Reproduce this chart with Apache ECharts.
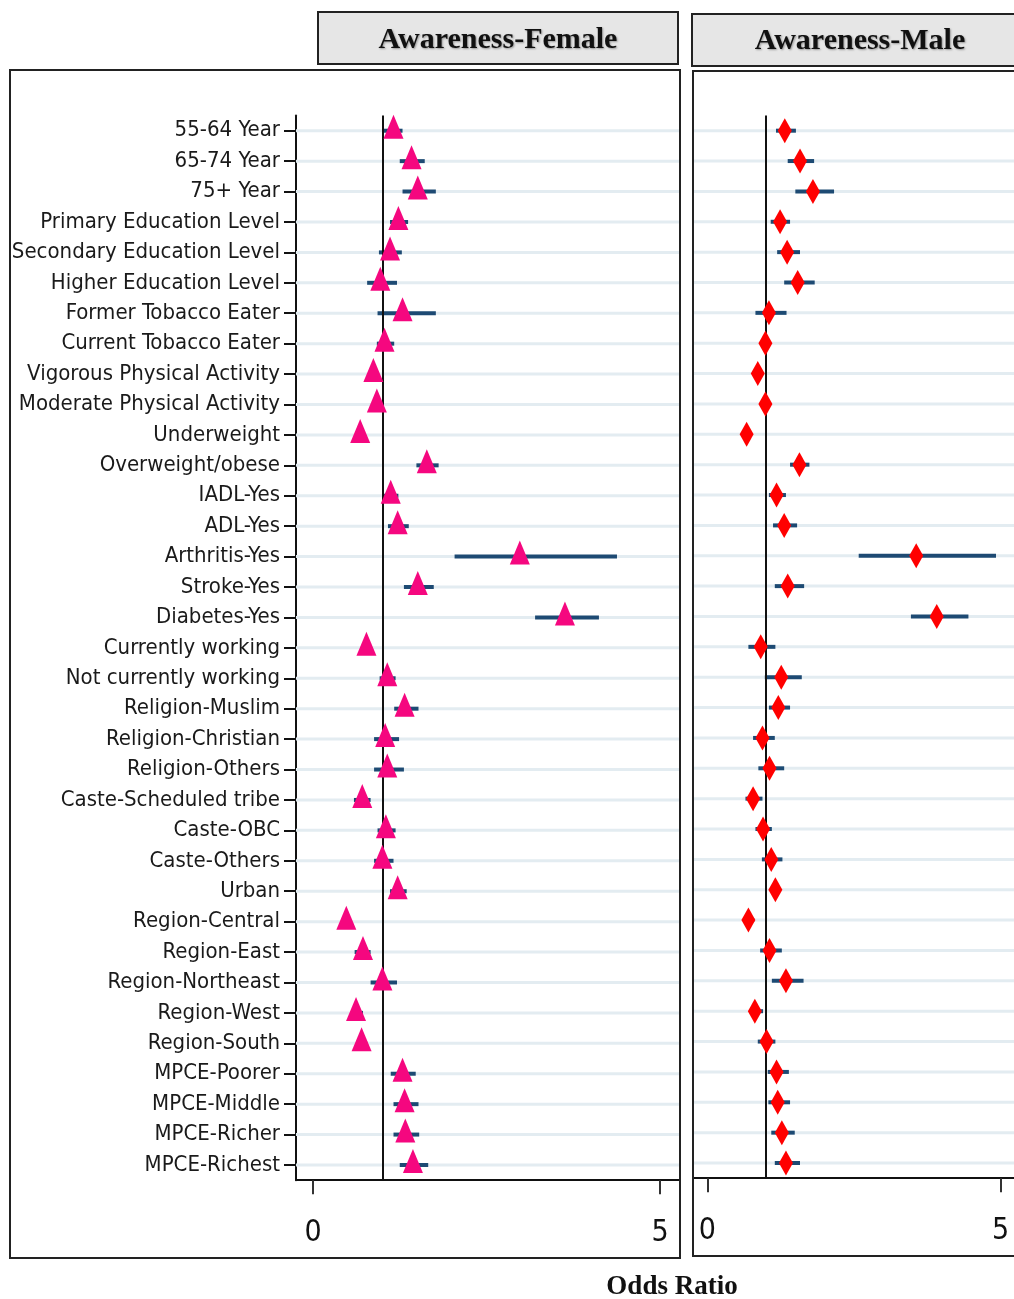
<!DOCTYPE html>
<html>
<head>
<meta charset="utf-8">
<script src="https://cdn.jsdelivr.net/npm/echarts@6/dist/echarts.min.js"></script>
<style>
  html, body { margin: 0; padding: 0; background: #fff; }
  #chart { width: 1014px; height: 1299px; }
</style>
</head>
<body>
<div id="chart"></div>
<script>
// row labels, top to bottom
const labels = [
  '55-64 Year', '65-74 Year', '75+ Year', 'Primary Education Level', 'Secondary Education Level',
  'Higher Education Level', 'Former Tobacco Eater', 'Current Tobacco Eater', 'Vigorous Physical Activity',
  'Moderate Physical Activity', 'Underweight', 'Overweight/obese', 'IADL-Yes', 'ADL-Yes', 'Arthritis-Yes',
  'Stroke-Yes', 'Diabetes-Yes', 'Currently working', 'Not currently working', 'Religion-Muslim',
  'Religion-Christian', 'Religion-Others', 'Caste-Scheduled tribe', 'Caste-OBC', 'Caste-Others', 'Urban',
  'Region-Central', 'Region-East', 'Region-Northeast', 'Region-West', 'Region-South',
  'MPCE-Poorer', 'MPCE-Middle', 'MPCE-Richer', 'MPCE-Richest'
];

// female odds ratios and 95% CI
const femaleOR = [1.16, 1.42, 1.51, 1.23, 1.11, 0.97, 1.29, 1.03, 0.87, 0.92, 0.68, 1.64, 1.12, 1.22, 2.98,
  1.51, 3.63, 0.77, 1.07, 1.32, 1.04, 1.07, 0.71, 1.05, 1.00, 1.22, 0.48, 0.72, 1.00, 0.62, 0.70,
  1.29, 1.32, 1.33, 1.44];
const femaleLo = [1.02, 1.25, 1.29, 1.11, 0.95, 0.78, 0.93, 0.92, 0.82, 0.87, 0.63, 1.49, 1.00, 1.08, 2.04,
  1.31, 3.20, 0.72, 0.96, 1.17, 0.88, 0.88, 0.59, 0.93, 0.88, 1.11, 0.44, 0.60, 0.83, 0.55, 0.65,
  1.12, 1.16, 1.16, 1.25];
const femaleHi = [1.29, 1.61, 1.77, 1.37, 1.28, 1.21, 1.77, 1.17, 0.93, 0.97, 0.73, 1.81, 1.23, 1.38, 4.38,
  1.74, 4.12, 0.83, 1.19, 1.52, 1.24, 1.31, 0.83, 1.19, 1.16, 1.35, 0.53, 0.83, 1.21, 0.72, 0.78,
  1.48, 1.52, 1.53, 1.66];

// male odds ratios and 95% CI
const maleOR = [1.32, 1.58, 1.80, 1.24, 1.36, 1.54, 1.05, 0.99, 0.86, 0.99, 0.67, 1.57, 1.18, 1.31, 3.56,
  1.37, 3.91, 0.91, 1.26, 1.21, 0.94, 1.06, 0.78, 0.95, 1.09, 1.16, 0.70, 1.06, 1.34, 0.81, 1.01,
  1.18, 1.20, 1.27, 1.34];
const maleLo = [1.17, 1.37, 1.50, 1.08, 1.19, 1.31, 0.82, 0.95, 0.82, 0.95, 0.63, 1.41, 1.05, 1.12, 2.58,
  1.15, 3.47, 0.70, 0.98, 1.05, 0.78, 0.87, 0.65, 0.82, 0.93, 1.10, 0.62, 0.90, 1.10, 0.72, 0.86,
  1.03, 1.04, 1.09, 1.15];
const maleHi = [1.51, 1.82, 2.16, 1.41, 1.58, 1.83, 1.35, 1.06, 0.90, 1.03, 0.71, 1.74, 1.34, 1.53, 4.92,
  1.65, 4.45, 1.16, 1.61, 1.41, 1.15, 1.31, 0.94, 1.10, 1.28, 1.22, 0.80, 1.27, 1.64, 0.95, 1.16,
  1.39, 1.41, 1.49, 1.58];

const xTicks = [0, 5];

const labelFont = "'Liberation Sans Narrow', 'DejaVu Sans Condensed', 'Roboto Condensed', 'Liberation Sans', sans-serif";
const serifFont = "'Liberation Serif', 'DejaVu Serif', serif";

const chart = echarts.init(document.getElementById('chart'));

function gridLines(xi, yi, xmin) {
  return {
    type: 'custom', xAxisIndex: xi, yAxisIndex: yi, silent: true, z: 1,
    data: labels.map(l => [xmin, l]),
    encode: { x: 0, y: 1 },
    renderItem(params, api) {
      const cs = params.coordSys;
      const y = api.coord([0, api.value(1)])[1];
      return { type: 'line', shape: { x1: cs.x, y1: y, x2: cs.x + cs.width, y2: y },
        style: { stroke: '#e3ecf1', lineWidth: 3 } };
    }
  };
}

function ciLines(xi, yi, lo, hi) {
  return {
    type: 'custom', xAxisIndex: xi, yAxisIndex: yi, silent: true, z: 3,
    data: labels.map((l, i) => [lo[i], hi[i], l]),
    encode: { x: [0, 1], y: 2 },
    renderItem(params, api) {
      const p1 = api.coord([api.value(0), api.value(2)]);
      const p2 = api.coord([api.value(1), api.value(2)]);
      return { type: 'line', shape: { x1: p1[0], y1: p1[1], x2: p2[0], y2: p2[1] },
        style: { stroke: '#1d4a73', lineWidth: 4 } };
    }
  };
}

function refLine() {
  return {
    silent: true, symbol: 'none', label: { show: false },
    lineStyle: { color: '#111', width: 2, type: 'solid' },
    data: [{ xAxis: 1 }]
  };
}

function xAxisCfg(gi, min, max) {
  return {
    type: 'value', gridIndex: gi, min: min, max: max,
    splitLine: { show: false },
    axisLine: { show: true, onZero: false, lineStyle: { color: '#111', width: 2 } },
    axisTick: { show: true, customValues: xTicks, length: 14, lineStyle: { color: '#333', width: 2 } },
    axisLabel: { customValues: xTicks, fontSize: 30, fontFamily: labelFont, color: '#111', margin: 38 }
  };
}

chart.setOption({
  animation: false,
  backgroundColor: '#fff',
  grid: [
    { left: 296, top: 115.5, width: 384, height: 1064.7, outerBoundsMode: 'none', containLabel: false },
    { left: 693, top: 115.5, width: 330, height: 1062.7, outerBoundsMode: 'none', containLabel: false }
  ],
  xAxis: [
    xAxisCfg(0, -0.245, 5.288),
    xAxisCfg(1, -0.244, 5.38)
  ],
  yAxis: [
    {
      type: 'category', gridIndex: 0, data: labels, inverse: true,
      axisLine: { show: true, onZero: false, lineStyle: { color: '#111', width: 2 } },
      axisTick: { show: true, alignWithLabel: true, length: 12, lineStyle: { color: '#111', width: 2 } },
      axisLabel: { interval: 0, fontSize: 22, fontFamily: labelFont, color: '#1a1a1a', margin: 16 },
      splitLine: { show: false }
    },
    {
      type: 'category', gridIndex: 1, data: labels, inverse: true,
      axisLine: { show: false, onZero: false }, axisTick: { show: false }, axisLabel: { show: false },
      splitLine: { show: false }
    }
  ],
  graphic: [
    { type: 'rect', shape: { x: 10, y: 70, width: 670, height: 1188 },
      style: { fill: 'none', stroke: '#222', lineWidth: 2 }, z: 100 },
    { type: 'rect', shape: { x: 693, y: 71, width: 340, height: 1185 },
      style: { fill: 'none', stroke: '#222', lineWidth: 2 }, z: 100 },
    { type: 'rect', shape: { x: 318, y: 12, width: 360, height: 52 },
      style: { fill: '#e6e6e6', stroke: '#222', lineWidth: 2 }, z: 100 },
    { type: 'rect', shape: { x: 692, y: 14, width: 340, height: 52 },
      style: { fill: '#e6e6e6', stroke: '#222', lineWidth: 2 }, z: 100 },
    { type: 'text', x: 498, y: 40, z: 101,
      style: { text: 'Awareness-Female', font: 'bold 30px ' + serifFont, fill: '#111',
        align: 'center', verticalAlign: 'middle', textShadowColor: 'rgba(0,0,0,0.35)', textShadowBlur: 2, textShadowOffsetX: 1, textShadowOffsetY: 1 } },
    { type: 'text', x: 860, y: 41, z: 101,
      style: { text: 'Awareness-Male', font: 'bold 30px ' + serifFont, fill: '#111',
        align: 'center', verticalAlign: 'middle', textShadowColor: 'rgba(0,0,0,0.35)', textShadowBlur: 2, textShadowOffsetX: 1, textShadowOffsetY: 1 } },
    { type: 'text', x: 672, y: 1287, z: 101,
      style: { text: 'Odds Ratio', font: 'bold 27px ' + serifFont, fill: '#111',
        align: 'center', verticalAlign: 'middle' } }
  ],
  series: [
    gridLines(0, 0, -0.245),
    gridLines(1, 1, -0.244),
    ciLines(0, 0, femaleLo, femaleHi),
    ciLines(1, 1, maleLo, maleHi),
    {
      name: 'Female', type: 'scatter', xAxisIndex: 0, yAxisIndex: 0, z: 5,
      symbol: 'triangle', symbolSize: [20, 24], symbolOffset: [0, -4],
      itemStyle: { color: '#f5077f', opacity: 1 },
      data: labels.map((l, i) => [femaleOR[i], l]),
      markLine: refLine()
    },
    {
      name: 'Male', type: 'scatter', xAxisIndex: 1, yAxisIndex: 1, z: 5,
      symbol: 'diamond', symbolSize: [14, 25],
      itemStyle: { color: '#ff0000', opacity: 1 },
      data: labels.map((l, i) => [maleOR[i], l]),
      markLine: refLine()
    }
  ]
});
</script>
</body>
</html>
